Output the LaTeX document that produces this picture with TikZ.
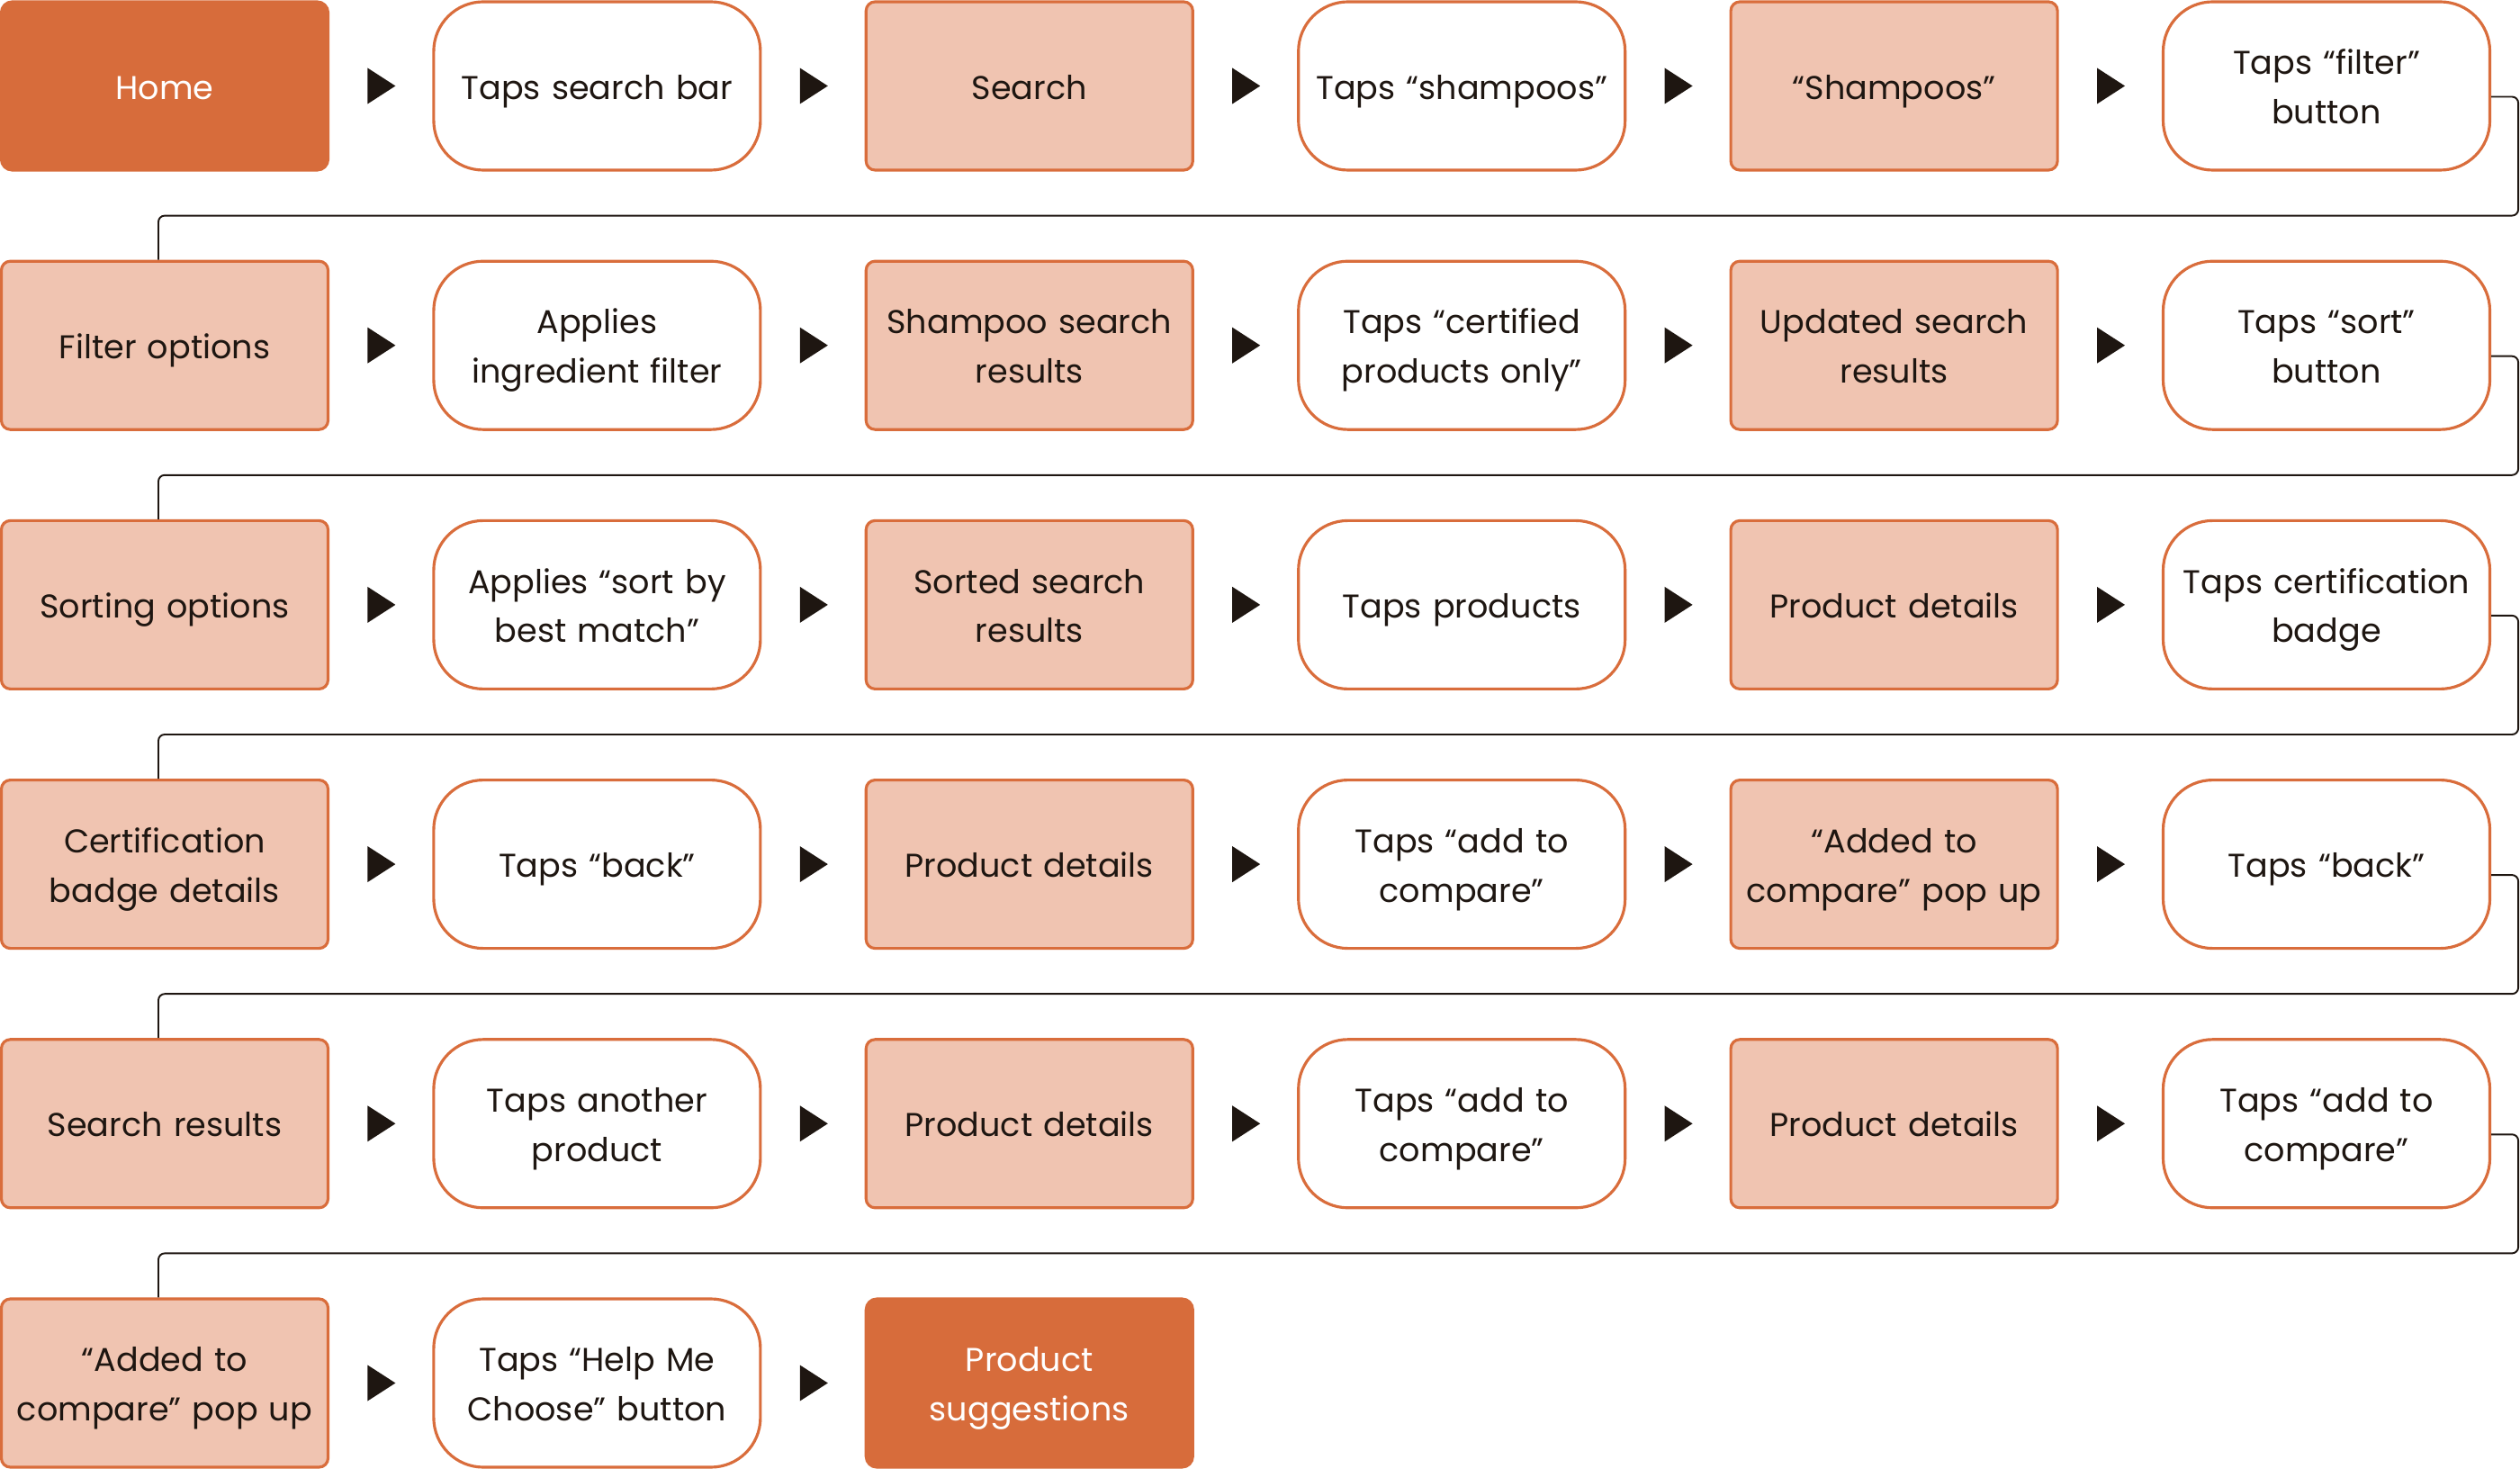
\documentclass[tikz,border=0pt]{standalone}
\usepackage{fontspec}
\setmainfont{Poppins}
\usetikzlibrary{calc}
\usetikzlibrary{shapes.geometric}

\definecolor{darkor}{HTML}{D76C3B}
\definecolor{edgeor}{HTML}{D96D3C}
\definecolor{lightor}{HTML}{F0C4B1}
\definecolor{inkc}{HTML}{1E1611}

\tikzset{
 base/.style={minimum width=3.63cm, minimum height=1.87cm, inner sep=0pt, align=center,
   text width=3.55cm, font=\fontsize{10.4}{15.6}\selectfont, text=inkc, line width=0.9pt,
   execute at begin node=\rule{0pt}{13pt}, execute at end node=\strut},
 homebox/.style={base, draw=darkor, fill=darkor, text=white, rounded corners=0.12cm},
 screenbox/.style={base, draw=edgeor, fill=lightor, rounded corners=0.1cm},
 tapbox/.style={base, draw=edgeor, fill=white, rounded corners=0.55cm},
 tri/.style={isosceles triangle, isosceles triangle stretches, fill=inkc, inner sep=0pt,
   minimum width=0.40cm, minimum height=0.31cm, anchor=lower side, xshift=-0.155cm},
 link/.style={draw=inkc, line width=0.55pt, rounded corners=0.07cm},
}

\begin{document}
\begin{tikzpicture}
\useasboundingbox (0,0) rectangle (28,-16.32);
% row 1
\node[homebox]   (n1-1) at (1.83,-0.955)   {Home};
\node[tapbox]    (n1-2) at (6.634,-0.955)  {Taps search bar};
\node[screenbox] (n1-3) at (11.438,-0.955) {Search};
\node[tapbox]    (n1-4) at (16.242,-0.955) {Taps “shampoos”};
\node[screenbox] (n1-5) at (21.046,-0.955) {“Shampoos”};
\node[tapbox]    (n1-6) at (25.85,-0.955)  {Taps “filter”\\button};
% row 2
\node[screenbox] (n2-1) at (1.83,-3.837)   {Filter options};
\node[tapbox]    (n2-2) at (6.634,-3.837)  {Applies\\ingredient filter};
\node[screenbox] (n2-3) at (11.438,-3.837) {Shampoo search\\results};
\node[tapbox]    (n2-4) at (16.242,-3.837) {Taps “certified\\products only”};
\node[screenbox] (n2-5) at (21.046,-3.837) {Updated search\\results};
\node[tapbox]    (n2-6) at (25.85,-3.837)  {Taps “sort”\\button};
% row 3
\node[screenbox] (n3-1) at (1.83,-6.719)   {Sorting options};
\node[tapbox]    (n3-2) at (6.634,-6.719)  {Applies “sort by\\best match”};
\node[screenbox] (n3-3) at (11.438,-6.719) {Sorted search\\results};
\node[tapbox]    (n3-4) at (16.242,-6.719) {Taps products};
\node[screenbox] (n3-5) at (21.046,-6.719) {Product details};
\node[tapbox]    (n3-6) at (25.85,-6.719)  {Taps certification\\badge};
% row 4
\node[screenbox] (n4-1) at (1.83,-9.601)   {Certification\\badge details};
\node[tapbox]    (n4-2) at (6.634,-9.601)  {Taps “back”};
\node[screenbox] (n4-3) at (11.438,-9.601) {Product details};
\node[tapbox]    (n4-4) at (16.242,-9.601) {Taps “add to\\compare”};
\node[screenbox] (n4-5) at (21.046,-9.601) {“Added to\\compare” pop up};
\node[tapbox]    (n4-6) at (25.85,-9.601)  {Taps “back”};
% row 5
\node[screenbox] (n5-1) at (1.83,-12.483)   {Search results};
\node[tapbox]    (n5-2) at (6.634,-12.483)  {Taps another\\product};
\node[screenbox] (n5-3) at (11.438,-12.483) {Product details};
\node[tapbox]    (n5-4) at (16.242,-12.483) {Taps “add to\\compare”};
\node[screenbox] (n5-5) at (21.046,-12.483) {Product details};
\node[tapbox]    (n5-6) at (25.85,-12.483)  {Taps “add to\\compare”};
% row 6
\node[screenbox] (n6-1) at (1.83,-15.365)   {“Added to\\compare” pop up};
\node[tapbox]    (n6-2) at (6.634,-15.365)  {Taps “Help Me\\Choose” button};
\node[homebox]   (n6-3) at (11.438,-15.365) {Product\\suggestions};

% arrows inside each row
\foreach \r/\m in {1/5,2/5,3/5,4/5,5/5,6/2} {
 \foreach \c in {1,...,\m} {
  \pgfmathtruncatemacro\d{\c+1}
  \path (n\r-\c) -- node[tri] {} (n\r-\d);
 }
}

% wrap to next row
\foreach \r [evaluate=\r as \s using int(\r+1)] in {1,...,5} {
 \coordinate (g\r) at ($(n\r-6.south east)!.5!(n\r-6.south east |- n\s-1.north)+(0.30,0)$);
 \draw[link] ([yshift=-1.2mm]n\r-6.east) -| (g\r) -| ([xshift=-0.7mm]n\s-1.north);
}
\end{tikzpicture}
\end{document}
